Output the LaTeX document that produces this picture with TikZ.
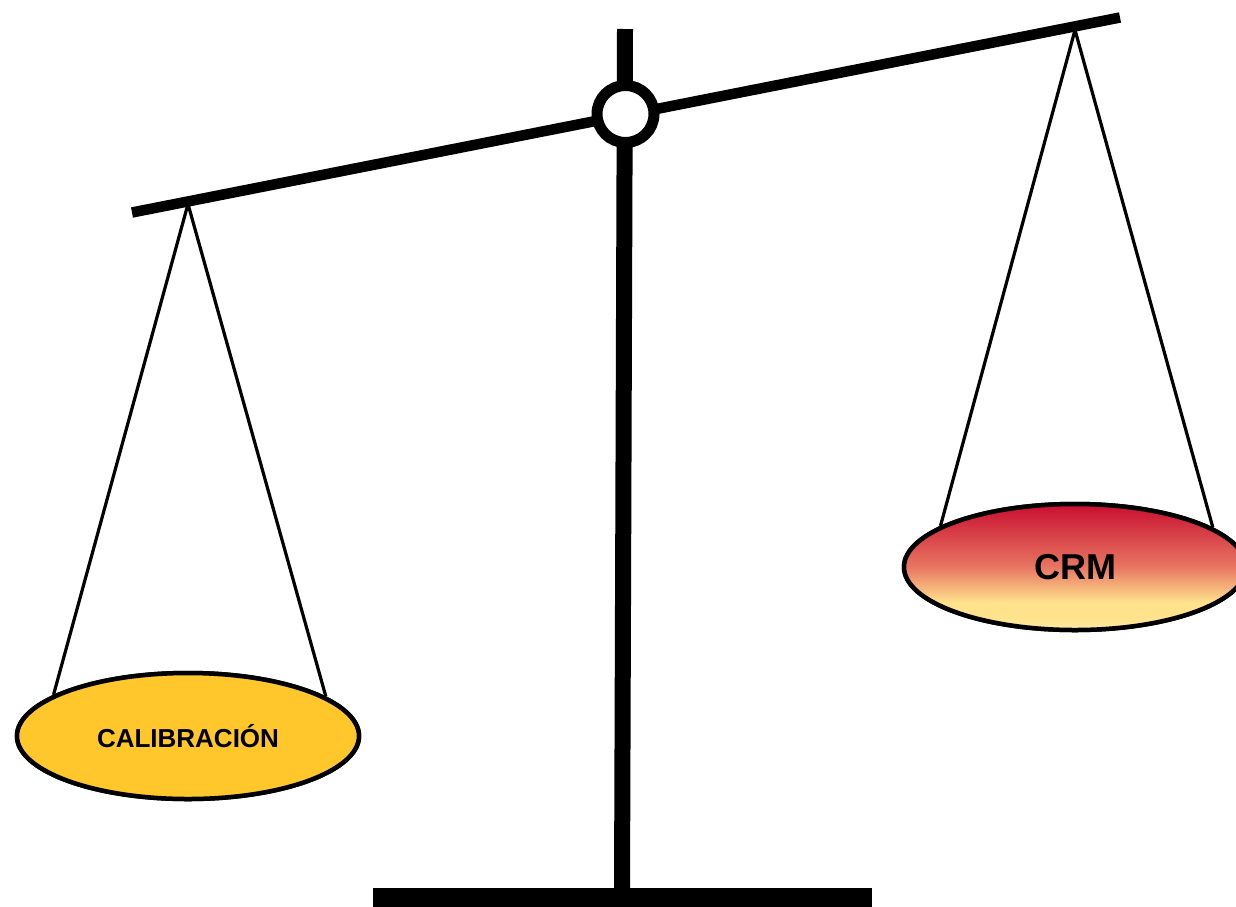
\documentclass[tikz,border=0pt]{standalone}
\usepackage{fontspec}
\setmainfont{Liberation Sans}
\usetikzlibrary{shapes.geometric}
\definecolor{panyellow}{RGB}{255,199,44}
\definecolor{crmR}{RGB}{200,14,48}
\definecolor{crmM}{RGB}{232,118,98}
\definecolor{crmY}{RGB}{255,226,140}
\definecolor{crmP}{RGB}{255,236,165}
\pgfdeclareverticalshading{crmshade}{100bp}{color(0bp)=(crmP); color(25bp)=(crmP); color(30bp)=(crmY); color(36bp)=(crmY); color(50bp)=(crmM); color(75bp)=(crmR); color(100bp)=(crmR)}
\tikzset{
  string/.style={line width=3.2pt},
  pan/.style={ellipse, draw=black, line width=4.5pt, minimum width=342pt, minimum height=126pt, inner sep=0pt, font=\bfseries},
  beam/.style={line width=10.5pt},
  post/.style={line width=16pt},
}
\begin{document}
\begin{tikzpicture}[x=1pt,y=-1pt]
\useasboundingbox (0,0) rectangle (1236,906);
% coordinates
\coordinate (beamL) at (132,212.5);
\coordinate (beamR) at (1120,17.5);
\coordinate (postT) at (625,29);
\coordinate (postB) at (622,890);
\coordinate (apexL) at (188,204);
\coordinate (apexR) at (1075,30);
% base and post
\fill (373,888) rectangle (872,910);
\draw[post] (postT) -- (postB);
% beam
\draw[beam] (beamL) -- (beamR);
% pivot
\node[circle, draw=black, fill=white, line width=11pt, minimum size=57pt, inner sep=0pt] (pivot) at (625.5,114) {};
% pans
\node[pan, fill=panyellow, font=\bfseries\fontsize{26}{30}\selectfont] (lpan) at (188,736) {CALIBRACIÓN};
\node[pan, shading=crmshade, font=\bfseries\fontsize{36}{40}\selectfont] (rpan) at (1075,567) {CRM};
% strings
\draw[string] (apexL) -- (lpan.163.5);
\draw[string] (apexL) -- (lpan.16.5);
\draw[string] (apexR) -- (rpan.163.5);
\draw[string] (apexR) -- (rpan.16.5);
% redraw pan borders over strings
\node[pan, fill=panyellow, font=\bfseries\fontsize{26}{30}\selectfont] at (188,736) {CALIBRACIÓN};
\node[pan, shading=crmshade, font=\bfseries\fontsize{36}{40}\selectfont] at (1075,567) {CRM};
\end{tikzpicture}
\end{document}
